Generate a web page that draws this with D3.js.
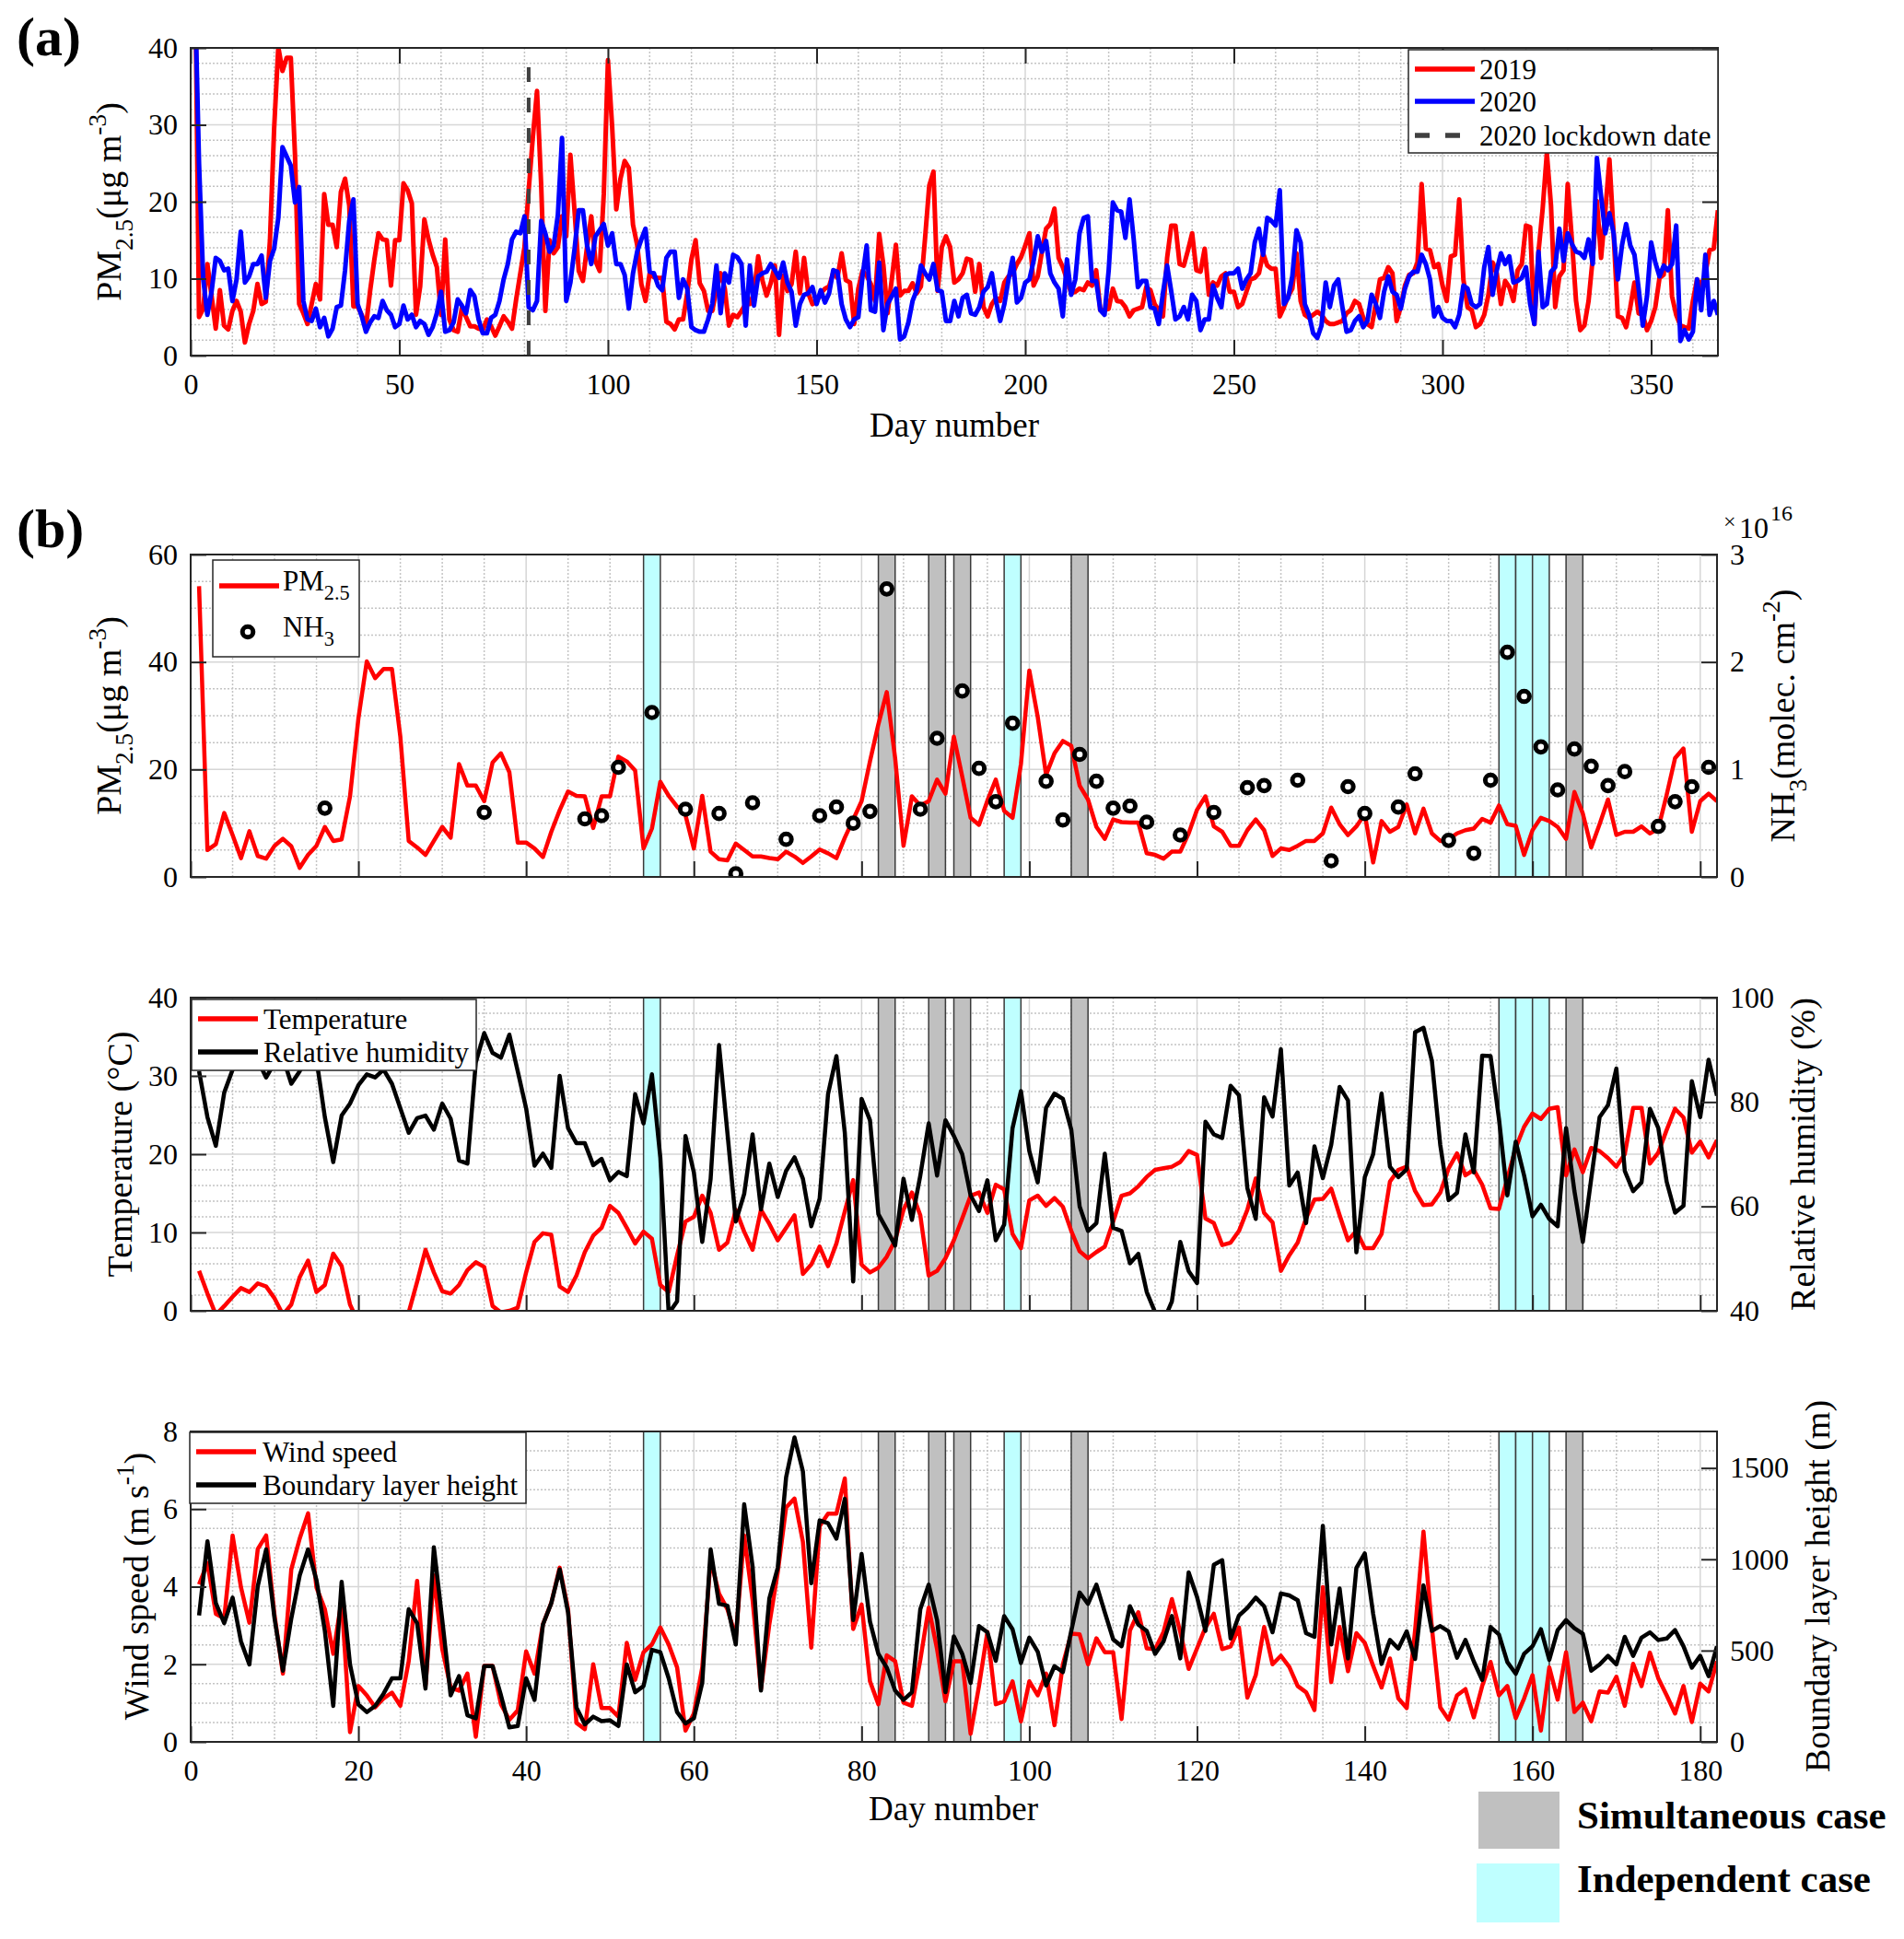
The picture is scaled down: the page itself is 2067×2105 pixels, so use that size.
<!DOCTYPE html>
<html>
<head>
<meta charset="utf-8">
<script src="https://cdn.jsdelivr.net/npm/d3@7"></script>
<style>
  body { margin: 0; background: #fff; }
  text { font-family: 'Liberation Serif', 'Times New Roman', serif; }
</style>
</head>
<body>
<svg id="chart" width="2067" height="2105"></svg>
<script>
// daily PM2.5, day 1..366
const pm2019 = [
  54.1, 5.0, 6.1, 11.9, 7.8, 3.5, 8.5, 3.9, 3.4, 5.8,
  7.1, 5.7, 1.7, 4.1, 5.8, 9.3, 6.7, 7.0, 15.0, 29.5,
  40.1, 37.0, 38.7, 38.7, 26.1, 6.7, 5.5, 4.1, 6.7, 9.3,
  7.3, 21.0, 17.0, 17.0, 14.1, 21.3, 23.0, 19.5, 6.4, 6.4,
  5.3, 3.7, 8.4, 12.4, 15.9, 15.1, 15.0, 9.1, 15.0, 15.0,
  22.4, 21.5, 19.8, 5.3, 9.0, 17.7, 15.1, 13.1, 11.5, 5.3,
  15.1, 4.7, 3.3, 3.1, 6.2, 5.0, 3.8, 3.8, 3.5, 3.3,
  4.7, 3.8, 2.6, 3.8, 5.1, 4.4, 3.5, 7.3, 10.7, 14.1,
  21.5, 28.4, 34.4, 22.1, 5.8, 15.0, 13.3, 14.1, 18.1, 15.5,
  26.1, 18.7, 11.0, 9.7, 14.2, 18.1, 12.3, 11.0, 21.0, 38.4,
  29.8, 19.0, 23.0, 25.3, 24.4, 17.0, 14.4, 9.3, 7.1, 10.7,
  10.2, 10.1, 10.1, 4.4, 4.1, 3.4, 4.7, 4.7, 8.1, 12.5,
  15.0, 9.4, 8.4, 5.8, 5.8, 8.7, 10.7, 8.7, 3.9, 5.3,
  5.0, 5.8, 6.7, 6.7, 8.1, 12.9, 9.8, 7.8, 9.4, 11.7,
  2.7, 10.4, 8.4, 9.3, 13.5, 8.1, 12.7, 8.1, 6.7, 7.0,
  8.1, 8.7, 9.0, 10.8, 10.1, 13.3, 9.8, 9.5, 4.1, 8.7,
  11.0, 10.4, 9.3, 7.1, 15.8, 11.8, 5.5, 9.8, 14.4, 7.8,
  8.4, 8.4, 9.4, 8.1, 9.0, 15.3, 22.1, 23.9, 8.4, 14.1,
  15.5, 14.1, 9.5, 9.9, 10.7, 12.6, 12.4, 8.3, 11.9, 6.3,
  5.1, 6.7, 7.5, 7.1, 9.5, 10.3, 10.7, 11.9, 12.8, 14.3,
  15.9, 9.1, 10.3, 13.5, 16.5, 17.1, 19.1, 12.7, 11.5, 9.9,
  8.1, 8.3, 8.7, 8.5, 9.5, 9.1, 11.1, 5.9, 5.9, 6.1,
  8.7, 7.1, 7.0, 6.3, 5.1, 5.9, 6.1, 6.3, 8.9, 8.5,
  6.7, 5.9, 5.1, 12.7, 16.9, 16.9, 11.9, 11.7, 13.7, 15.9,
  11.1, 10.9, 13.9, 7.9, 9.5, 9.1, 10.3, 10.7, 8.3, 8.3,
  6.3, 6.7, 8.3, 9.9, 10.1, 10.7, 13.3, 11.7, 11.3, 11.3,
  5.1, 6.3, 7.7, 8.7, 13.3, 7.1, 5.3, 4.9, 5.3, 5.7,
  5.3, 4.5, 4.1, 4.1, 4.3, 4.5, 5.5, 5.9, 7.1, 6.7,
  4.9, 4.1, 3.7, 6.7, 9.9, 10.1, 11.5, 10.7, 4.5, 6.3,
  9.1, 10.5, 10.7, 12.1, 22.3, 13.9, 13.7, 11.5, 11.9, 9.1,
  7.1, 12.9, 13.1, 20.3, 9.9, 6.3, 5.9, 3.7, 4.1, 5.3,
  7.9, 12.1, 10.7, 6.7, 9.7, 8.9, 7.1, 11.1, 11.9, 16.9,
  16.7, 4.1, 13.5, 19.1, 26.3, 19.5, 6.3, 10.3, 11.1, 22.3,
  15.1, 7.1, 3.3, 3.9, 7.1, 12.7, 20.1, 12.7, 18.7, 25.5,
  15.9, 5.1, 4.9, 3.7, 6.3, 9.5, 5.5, 5.3, 3.3, 4.5,
  6.3, 10.1, 10.5, 18.9, 7.7, 5.3, 3.9, 3.7, 3.5, 7.1,
  9.9, 9.1, 10.7, 13.7, 13.9, 18.9
];
const pm2020 = [
  48, 25, 10, 5.3, 8.3, 12.7, 12.3, 11.1, 11.3, 7.1,
  9.9, 16.1, 9.5, 10.3, 11.9, 11.9, 13.0, 7.5, 12.3, 13.9,
  17.9, 27.1, 25.9, 24.7, 19.9, 21.9, 7.1, 4.7, 4.5, 6.1,
  3.7, 4.9, 2.5, 3.5, 6.3, 6.5, 11.1, 17.5, 20.3, 6.7,
  5.1, 3.1, 4.3, 5.1, 4.9, 7.1, 5.9, 5.3, 3.7, 4.1,
  6.5, 4.7, 5.3, 3.7, 4.5, 4.1, 2.7, 3.7, 5.5, 8.3,
  3.1, 3.3, 4.3, 7.3, 6.5, 5.5, 8.5, 7.7, 4.7, 2.9,
  2.9, 4.9, 5.3, 7.1, 9.9, 11.9, 15.1, 16.1, 15.9, 18.1,
  6.3, 5.9, 7.1, 17.5, 15.9, 13.5, 14.3, 18.3, 28.3, 7.1,
  9.5, 13.9, 18.9, 18.9, 14.3, 11.9, 15.5, 16.3, 17.1, 14.3,
  15.9, 11.9, 11.9, 10.5, 6.1, 10.7, 13.5, 15.1, 16.5, 10.9,
  10.7, 9.1, 8.5, 12.7, 13.5, 13.5, 7.5, 9.9, 8.7, 3.7,
  3.3, 3.1, 3.1, 4.7, 6.7, 11.7, 5.5, 10.7, 9.5, 13.1,
  12.8, 11.9, 3.9, 11.7, 6.5, 10.3, 10.7, 10.9, 11.9, 11.1,
  10.1, 12.1, 9.5, 8.3, 3.9, 6.7, 7.9, 8.1, 8.9, 6.7,
  8.5, 6.9, 8.1, 11.1, 10.9, 6.7, 4.7, 3.7, 4.7, 5.0,
  10.3, 14.3, 5.9, 5.7, 12.1, 3.3, 6.7, 7.7, 8.7, 2.1,
  2.5, 4.3, 7.1, 8.5, 11.7, 10.7, 9.9, 11.9, 8.5, 8.3,
  4.5, 4.5, 7.1, 5.1, 7.5, 7.9, 5.5, 5.3, 6.3, 8.3,
  8.9, 10.7, 7.1, 4.5, 6.7, 9.9, 12.7, 6.9, 7.5, 9.5,
  9.9, 12.3, 15.5, 13.5, 14.9, 10.7, 9.5, 8.7, 5.1, 12.5,
  7.9, 9.9, 15.9, 17.9, 18.1, 9.7, 9.7, 5.9, 5.3, 11.1,
  19.9, 18.9, 18.7, 15.3, 20.3, 15.1, 8.9, 9.7, 9.7, 6.3,
  6.1, 4.1, 8.1, 11.7, 8.3, 4.7, 5.1, 6.3, 4.7, 7.9,
  7.1, 3.3, 4.7, 4.7, 9.1, 7.5, 6.3, 10.5, 10.7, 10.7,
  11.3, 8.7, 9.9, 10.7, 14.7, 16.5, 13.1, 17.9, 17.5, 16.9,
  21.5, 6.7, 7.5, 10.3, 16.3, 14.7, 6.7, 5.3, 2.9, 2.3,
  3.9, 9.5, 6.3, 9.1, 9.9, 6.3, 3.1, 3.3, 4.5, 5.1,
  3.7, 4.5, 7.9, 6.7, 4.9, 8.3, 10.3, 8.3, 7.9, 6.1,
  8.7, 10.3, 10.9, 10.9, 13.1, 11.9, 9.9, 5.1, 6.3, 4.9,
  4.5, 4.5, 3.7, 5.3, 9.1, 8.7, 6.7, 6.3, 6.7, 11.5,
  14.1, 7.9, 11.1, 13.3, 11.9, 12.9, 9.5, 9.7, 10.1, 11.5,
  6.7, 4.1, 13.5, 6.3, 6.7, 10.9, 11.5, 16.5, 12.3, 15.9,
  14.5, 13.5, 13.3, 12.7, 15.1, 11.9, 25.7, 20.7, 15.9, 18.5,
  15.9, 9.9, 14.3, 17.1, 14.3, 13.1, 8.7, 3.9, 7.7, 14.7,
  12.1, 10.3, 11.7, 11.1, 11.9, 16.9, 1.9, 3.3, 2.1, 3.1,
  9.9, 5.9, 13.1, 5.3, 7.1, 5.3
];
const lockdownDay = 81;
const lockdownSpan = [0, 38];

// NH3 column (x 1e16 molec. cm-2) on the days it was observed
const nh3Days = [16, 35, 47, 49, 51, 55, 59, 63, 65, 67, 71, 75, 77, 79, 81, 83, 87, 89, 92, 94,
  96, 98, 102, 104, 106, 108, 110, 112, 114, 118, 122, 126, 128, 132, 136, 138, 140, 144, 146, 150,
  153, 155, 157, 159, 161, 163, 165, 167, 169, 171, 175, 177, 179, 181];
const nh3 = [0.64, 0.60, 0.54, 0.57, 1.02, 1.53, 0.63, 0.59, 0.03, 0.69, 0.35, 0.57, 0.65, 0.50, 0.61, 2.68, 0.63, 1.29, 1.73, 1.01,
  0.70, 1.43, 0.89, 0.53, 1.14, 0.89, 0.64, 0.66, 0.51, 0.39, 0.60, 0.83, 0.85, 0.90, 0.15, 0.84, 0.59, 0.65, 0.96, 0.34,
  0.22, 0.90, 2.09, 1.68, 1.21, 0.81, 1.19, 1.03, 0.85, 0.98, 0.47, 0.70, 0.84, 1.02];

// meteorology, day 1..182 of 2019
const temperature = [
  5.1, 2.2, -0.5, 0.6, 1.8, 2.9, 2.4, 3.5, 3.1, 1.6,
  -0.5, 0.8, 4.3, 6.4, 2.4, 3.3, 7.3, 5.7, 0.8, -1.5,
  -3.0, -3.0, -2.5, -2.0, -1.5, -0.2, 3.7, 7.8, 4.9, 2.5,
  2.2, 3.3, 5.2, 6.2, 5.6, 0.6, -0.2, 0.0, 0.4, 4.9,
  8.8, 9.9, 9.7, 3.1, 2.4, 4.5, 7.5, 9.6, 10.6, 13.4,
  12.5, 10.6, 8.6, 10.1, 9.2, 3.3, 2.4, 7.1, 11.4, 12.0,
  14.7, 12.5, 7.8, 8.7, 12.9, 10.1, 7.8, 12.9, 11.1, 9.0,
  10.6, 12.2, 4.7, 5.9, 8.2, 5.7, 8.6, 12.7, 16.7, 5.9,
  4.9, 5.5, 6.9, 9.0, 12.9, 15.1, 12.2, 4.5, 5.1, 6.7,
  9.0, 11.8, 14.7, 15.1, 12.5, 16.1, 15.5, 9.8, 8.0, 14.1,
  14.7, 13.4, 14.4, 13.3, 10.2, 7.6, 6.7, 7.5, 8.2, 11.4,
  14.7, 15.0, 15.9, 17.1, 18.0, 18.2, 18.4, 19.0, 20.4, 19.9,
  11.8, 11.2, 8.4, 8.7, 10.2, 12.9, 16.9, 12.5, 11.3, 5.1,
  7.1, 8.7, 11.8, 14.2, 14.3, 15.6, 12.2, 9.0, 10.2, 8.0,
  8.0, 9.8, 16.5, 18.0, 18.4, 15.3, 13.5, 13.6, 15.1, 18.2,
  20.1, 17.3, 18.0, 16.1, 13.1, 13.0, 16.9, 20.8, 23.5, 25.2,
  24.5, 25.8, 26.0, 17.3, 20.6, 17.7, 20.8, 20.4, 19.5, 18.4,
  20.0, 25.9, 25.9, 18.8, 20.2, 23.1, 25.8, 24.7, 20.2, 21.6,
  19.6, 21.8
];
const humidity = [
  85.9, 77.1, 71.6, 81.8, 86.2, 88.5, 89.5, 88.0, 84.7, 87.5,
  88.5, 83.5, 85.9, 88.5, 88.2, 77.1, 68.5, 77.4, 79.7, 83.2,
  85.3, 84.7, 86.2, 83.5, 78.8, 74.1, 76.9, 77.4, 74.7, 79.7,
  76.8, 68.8, 68.2, 87.6, 93.2, 89.4, 88.5, 92.9, 85.9, 78.8,
  67.8, 70.1, 67.4, 85.0, 75.0, 72.1, 72.1, 67.9, 69.1, 65.0,
  66.6, 65.8, 81.5, 75.9, 85.3, 69.4, 39.5, 41.8, 73.5, 66.5,
  53.2, 65.3, 90.9, 74.1, 57.1, 62.4, 73.8, 59.4, 68.2, 61.8,
  66.8, 69.4, 65.3, 56.2, 61.5, 81.5, 88.8, 74.1, 45.6, 80.6,
  76.5, 58.5, 55.6, 52.5, 65.3, 57.4, 65.9, 75.9, 65.9, 76.5,
  73.5, 70.0, 62.1, 59.1, 65.0, 53.5, 56.5, 75.0, 82.1, 70.6,
  64.6, 78.9, 81.6, 80.6, 74.7, 60.0, 55.3, 56.8, 70.1, 55.9,
  55.3, 49.1, 50.9, 43.6, 39.7, 38.0, 41.8, 53.2, 47.6, 45.3,
  76.2, 73.8, 73.1, 83.1, 81.3, 63.5, 57.6, 80.9, 77.2, 90.1,
  64.0, 66.5, 56.8, 71.5, 65.4, 71.8, 82.9, 80.3, 51.2, 65.6,
  70.0, 81.6, 67.6, 65.6, 67.1, 93.4, 94.2, 87.9, 71.8, 61.2,
  62.6, 73.8, 66.5, 88.9, 88.8, 76.8, 62.1, 72.4, 65.9, 58.1,
  60.3, 57.6, 56.2, 75.0, 62.9, 53.2, 65.3, 77.1, 79.4, 86.4,
  66.8, 62.9, 64.6, 78.7, 75.0, 64.7, 58.8, 60.1, 84.0, 77.1,
  88.1, 81.2
];
const windSpeed = [
  4.06, 4.61, 3.30, 3.18, 5.32, 3.98, 3.07, 4.97, 5.32, 3.26,
  1.76, 4.45, 5.24, 5.89, 3.98, 3.42, 2.27, 3.66, 0.25, 1.44,
  1.20, 0.89, 1.12, 1.27, 0.93, 2.08, 4.15, 1.44, 4.29, 2.39,
  1.40, 1.32, 1.76, 0.13, 1.96, 1.96, 0.97, 0.57, 0.81, 2.33,
  1.76, 3.03, 3.58, 4.49, 3.42, 0.49, 0.33, 2.00, 0.87, 0.87,
  0.65, 2.55, 1.60, 2.31, 2.51, 2.95, 2.51, 1.92, 0.29, 0.73,
  1.92, 4.69, 3.82, 3.42, 2.71, 5.32, 3.66, 1.36, 3.03, 4.37,
  6.04, 6.27, 5.16, 2.43, 5.56, 5.88, 5.88, 6.79, 2.91, 3.54,
  1.56, 0.97, 2.23, 2.08, 1.01, 0.93, 2.11, 3.46, 2.39, 1.05,
  2.08, 2.08, 0.21, 1.44, 2.83, 0.97, 1.05, 1.56, 0.53, 1.56,
  1.20, 1.76, 0.43, 2.00, 2.79, 2.77, 2.00, 2.67, 2.31, 2.31,
  0.59, 2.87, 3.34, 2.41, 2.39, 2.83, 3.68, 2.83, 1.88, 2.41,
  2.95, 3.30, 2.39, 2.46, 2.95, 1.14, 1.72, 2.96, 2.00, 2.22,
  1.93, 1.44, 1.28, 0.82, 3.99, 1.54, 2.96, 1.82, 2.80, 2.55,
  1.96, 1.40, 2.15, 1.12, 0.87, 2.87, 5.42, 2.95, 0.89, 0.57,
  1.20, 1.36, 0.63, 1.44, 2.06, 1.20, 1.44, 0.61, 1.12, 1.72,
  0.29, 1.92, 1.09, 2.31, 0.77, 1.01, 0.53, 1.30, 1.27, 1.68,
  0.93, 2.01, 1.44, 2.30, 1.64, 1.20, 0.73, 1.44, 0.51, 1.50,
  1.30, 2.08
];
const blh = [
  692, 1099, 760, 650, 790, 550, 424, 852, 1054, 676,
  390, 676, 911, 1054, 886, 608, 197, 877, 424, 205,
  163, 197, 264, 348, 348, 726, 650, 292, 1066, 667,
  255, 360, 146, 129, 415, 415, 255, 79, 87, 348,
  230, 642, 760, 945, 709, 188, 96, 138, 113, 118,
  87, 424, 272, 306, 504, 491, 348, 163, 101, 129,
  323, 1054, 756, 746, 533, 1301, 961, 281, 785, 953,
  1449, 1667, 1482, 869, 1213, 1197, 1113, 1331, 667, 1029,
  659, 482, 407, 281, 230, 272, 726, 861, 667, 272,
  578, 482, 323, 634, 600, 444, 689, 617, 432, 571,
  494, 309, 415, 382, 608, 818, 756, 861, 709, 561,
  524, 743, 642, 608, 482, 550, 689, 457, 928, 793,
  608, 970, 995, 566, 692, 734, 790, 743, 600, 813,
  802, 776, 595, 575, 1183, 533, 840, 457, 953, 1032,
  701, 427, 558, 511, 605, 454, 857, 608, 634, 605,
  461, 558, 440, 339, 629, 588, 437, 373, 482, 524,
  617, 449, 612, 667, 622, 592, 390, 424, 471, 424,
  575, 471, 571, 600, 558, 566, 612, 524, 407, 471,
  360, 524
];

// highlighted episodes [start day, end day]
const simultaneousCases = [[82, 84], [88, 90], [91, 93], [105, 107], [164, 166]];
const independentCases = [[54, 56], [97, 99], [156, 158], [158, 160], [160, 162]];

const GRAY = "#c0c0c0", CYAN = "#bfffff", AXIS = "#262626";
const svg = d3.select("#chart");
svg.append("rect").attr("width", 2067).attr("height", 2105).attr("fill", "#fff");
const defs = svg.append("defs");

const onStep = (v, step) => Math.abs(v / step - Math.round(v / step)) < 1e-6;

// text with sub/superscript pieces: [["PM"], ["2.5", "sub"], ...]
function rich(sel, parts, size) {
  let off = 0;
  parts.forEach(([s, kind]) => {
    const to = kind === "sub" ? size * 0.33 : kind === "sup" ? -size * 0.42 : 0;
    sel.append("tspan").attr("dy", to - off).attr("font-size", kind ? size * 0.72 : size).text(s);
    off = to;
  });
  return sel;
}

function makePanel(o) {
  const x = d3.scaleLinear().domain(o.xDomain).range([o.left, o.right]);
  const y = d3.scaleLinear().domain(o.yDomain).range([o.bottom, o.top]);
  const y2 = o.y2Domain ? d3.scaleLinear().domain(o.y2Domain).range([o.bottom, o.top]) : null;
  const g = svg.append("g");

  const xs = d3.range(o.xDomain[0] + o.xMinor, o.xDomain[1], o.xMinor);
  const ys = d3.range(o.yDomain[0] + o.yMinor, o.yDomain[1] - 1e-9, o.yMinor);
  const grid = g.append("g");
  grid.selectAll("line.gx").data(xs).join("line")
    .attr("x1", x).attr("x2", x).attr("y1", o.top).attr("y2", o.bottom)
    .attr("stroke", d => onStep(d, o.xMajor) ? "#d6d6d6" : "#c4c4c4")
    .attr("stroke-dasharray", d => onStep(d, o.xMajor) ? null : "2,2")
    .attr("stroke-width", 1.5);
  grid.selectAll("line.gy").data(ys).join("line")
    .attr("y1", y).attr("y2", y).attr("x1", o.left).attr("x2", o.right)
    .attr("stroke", d => onStep(d, o.yMajor) ? "#d6d6d6" : "#c4c4c4")
    .attr("stroke-dasharray", d => onStep(d, o.yMajor) ? null : "2,2")
    .attr("stroke-width", 1.5);

  if (o.bands) {
    const bands = [
      ...simultaneousCases.map(r => ({ r, fill: GRAY })),
      ...independentCases.map(r => ({ r, fill: CYAN }))
    ];
    g.append("g").selectAll("rect").data(bands).join("rect")
      .attr("x", d => x(d.r[0])).attr("width", d => x(d.r[1]) - x(d.r[0]))
      .attr("y", o.top).attr("height", o.bottom - o.top)
      .attr("fill", d => d.fill).attr("stroke", "#3a3a3a").attr("stroke-width", 1.5);
  }

  defs.append("clipPath").attr("id", o.id).append("rect")
    .attr("x", o.left).attr("y", o.top).attr("width", o.right - o.left).attr("height", o.bottom - o.top);
  const data = g.append("g").attr("clip-path", `url(#${o.id})`);
  return { o, g, x, y, y2, data };
}

function styleAxis(sel) {
  sel.attr("font-family", "'Liberation Serif', 'Times New Roman', serif").attr("font-size", 32);
  sel.select(".domain").remove();
  sel.selectAll(".tick line").attr("stroke", AXIS).attr("stroke-width", 2);
  sel.selectAll(".tick text").attr("fill", "#000");
}

function finishPanel(p) {
  const o = p.o, g = p.g.append("g");
  const blank = () => "";
  const num = d3.format("d");
  g.append("g").attr("transform", `translate(0,${o.bottom})`)
    .call(d3.axisBottom(p.x).tickValues(o.xTicks).tickSizeInner(-17).tickSizeOuter(0)
      .tickPadding(19).tickFormat(o.xLabels ? num : blank))
    .call(styleAxis);
  g.append("g").attr("transform", `translate(${o.left},0)`)
    .call(d3.axisLeft(p.y).tickValues(o.yTicks).tickSizeInner(-17).tickSizeOuter(0)
      .tickPadding(14).tickFormat(num))
    .call(styleAxis);
  if (p.y2) {
    g.append("g").attr("transform", `translate(${o.right},0)`)
      .call(d3.axisRight(p.y2).tickValues(o.y2Ticks).tickSizeInner(-17).tickSizeOuter(0)
        .tickPadding(14).tickFormat(num))
      .call(styleAxis);
  } else {
    g.append("g").attr("transform", `translate(${o.right},0)`)
      .call(d3.axisRight(p.y).tickValues(o.yTicks).tickSizeInner(-17).tickSizeOuter(0).tickFormat(blank))
      .call(styleAxis);
    g.append("g").attr("transform", `translate(0,${o.top})`)
      .call(d3.axisTop(p.x).tickValues(o.xTicks).tickSizeInner(-17).tickSizeOuter(0).tickFormat(blank))
      .call(styleAxis);
  }
  g.append("rect").attr("x", o.left).attr("y", o.top)
    .attr("width", o.right - o.left).attr("height", o.bottom - o.top)
    .attr("fill", "none").attr("stroke", AXIS).attr("stroke-width", 2);
}

function yTitle(x, y, parts, size = 38) {
  rich(svg.append("text").attr("transform", `translate(${x},${y}) rotate(-90)`)
    .attr("text-anchor", "middle").attr("font-size", size), parts, size);
}

function dayLine(p, scale, values, color, width) {
  p.data.append("path").datum(values)
    .attr("d", d3.line().x((d, i) => p.x(i + 1)).y(d => scale(d)))
    .attr("fill", "none").attr("stroke", color).attr("stroke-width", width)
    .attr("stroke-linejoin", "round");
}

function legendBox(x, y, w, h) {
  svg.append("rect").attr("x", x).attr("y", y).attr("width", w).attr("height", h)
    .attr("fill", "#fff").attr("stroke", AXIS).attr("stroke-width", 1.5);
}

function legendLine(x, y, color, dash) {
  svg.append("line").attr("x1", x).attr("x2", x + 65).attr("y1", y).attr("y2", y)
    .attr("stroke", color).attr("stroke-width", 5.5).attr("stroke-dasharray", dash || null);
}

function nh3Marker(sel) {
  return sel.attr("r", 5.8).attr("fill", "#fff").attr("stroke", "#000").attr("stroke-width", 5);
}

const pmTitle = [["PM"], ["2.5", "sub"], ["(μg m"], ["-3", "sup"], [")"]];

// ---------- (a) ----------
const pa = makePanel({
  id: "clipA", left: 207, right: 1865, top: 52, bottom: 386,
  xDomain: [0, 366], yDomain: [0, 40], xMinor: 10, xMajor: 50, yMinor: 2, yMajor: 10,
  xTicks: d3.range(0, 351, 50), yTicks: d3.range(0, 41, 10), xLabels: true
});
dayLine(pa, pa.y, pm2019, "#ff0000", 5);
dayLine(pa, pa.y, pm2020, "#0000ff", 5);
pa.data.append("line")
  .attr("x1", pa.x(lockdownDay)).attr("x2", pa.x(lockdownDay))
  .attr("y1", pa.y(lockdownSpan[0])).attr("y2", pa.y(lockdownSpan[1]))
  .attr("stroke", "#404040").attr("stroke-width", 4).attr("stroke-dasharray", "16,17");
finishPanel(pa);

legendBox(1529, 54, 336, 112);
legendLine(1536, 75, "#ff0000");
legendLine(1536, 110, "#0000ff");
legendLine(1536, 147, "#404040", "16,17");
[["2019", 86], ["2020", 121], ["2020 lockdown date", 158]].forEach(([t, yy]) =>
  svg.append("text").attr("x", 1606).attr("y", yy).attr("font-size", 31).text(t));

yTitle(131, 219, pmTitle);
svg.append("text").attr("x", 1036).attr("y", 474).attr("text-anchor", "middle").attr("font-size", 37).text("Day number");
svg.append("text").attr("x", 18).attr("y", 60).attr("font-size", 60).attr("font-weight", "bold").text("(a)");
svg.append("text").attr("x", 18).attr("y", 594).attr("font-size", 60).attr("font-weight", "bold").text("(b)");

// ---------- (b) PM2.5 and NH3 ----------
const bx = { left: 207, right: 1864, xDomain: [0, 182], xMinor: 5, xMajor: 20, xTicks: d3.range(0, 181, 20), bands: true };
const pb1 = makePanel({
  ...bx, id: "clipB1", top: 602, bottom: 952,
  yDomain: [0, 60], yMinor: 5, yMajor: 20, yTicks: [0, 20, 40, 60],
  y2Domain: [0, 3], y2Ticks: [0, 1, 2, 3], xLabels: false
});
dayLine(pb1, pb1.y, pm2019.slice(0, 182), "#ff0000", 4.5);
pb1.data.append("g").selectAll("circle").data(nh3Days).join("circle")
  .attr("cx", d => pb1.x(d)).attr("cy", (d, i) => pb1.y2(nh3[i])).call(nh3Marker);
finishPanel(pb1);

legendBox(231, 608, 159, 105);
legendLine(238, 636, "#ff0000");
rich(svg.append("text").attr("x", 307).attr("y", 641).attr("font-size", 31), [["PM"], ["2.5", "sub"]], 31);
svg.append("circle").attr("cx", 269).attr("cy", 686).call(nh3Marker);
rich(svg.append("text").attr("x", 307).attr("y", 691).attr("font-size", 31), [["NH"], ["3", "sub"]], 31);

yTitle(131, 777, pmTitle);
yTitle(1948, 777, [["NH"], ["3", "sub"], ["(molec. cm"], ["-2", "sup"], [")"]]);
svg.append("text").attr("x", 1871).attr("y", 574).attr("font-size", 24).text("×");
svg.append("text").attr("x", 1888).attr("y", 584).attr("font-size", 32).text("10");
svg.append("text").attr("x", 1922).attr("y", 565).attr("font-size", 24).text("16");

// ---------- (b) temperature and RH ----------
const pb2 = makePanel({
  ...bx, id: "clipB2", top: 1083, bottom: 1423,
  yDomain: [0, 40], yMinor: 2, yMajor: 10, yTicks: [0, 10, 20, 30, 40],
  y2Domain: [40, 100], y2Ticks: [40, 60, 80, 100], xLabels: false
});
dayLine(pb2, pb2.y, temperature, "#ff0000", 4.5);
dayLine(pb2, pb2.y2, humidity, "#000000", 4.5);
finishPanel(pb2);

legendBox(208, 1085, 309, 77);
legendLine(215, 1106, "#ff0000");
legendLine(215, 1142, "#000000");
svg.append("text").attr("x", 286).attr("y", 1117).attr("font-size", 31).text("Temperature");
svg.append("text").attr("x", 286).attr("y", 1153).attr("font-size", 31).text("Relative humidity");

yTitle(143, 1253, [["Temperature (°C)"]]);
yTitle(1970, 1253, [["Relative humidity (%)"]]);

// ---------- (b) wind speed and boundary layer height ----------
const pb3 = makePanel({
  ...bx, id: "clipB3", top: 1554, bottom: 1891,
  yDomain: [0, 8], yMinor: 0.5, yMajor: 2, yTicks: [0, 2, 4, 6, 8],
  y2Domain: [0, 1700], y2Ticks: [0, 500, 1000, 1500], xLabels: true
});
dayLine(pb3, pb3.y, windSpeed, "#ff0000", 4.5);
dayLine(pb3, pb3.y2, blh, "#000000", 4.5);
finishPanel(pb3);

legendBox(206, 1555, 365, 77);
legendLine(213, 1576, "#ff0000");
legendLine(213, 1612, "#000000");
svg.append("text").attr("x", 285).attr("y", 1587).attr("font-size", 31).text("Wind speed");
svg.append("text").attr("x", 285).attr("y", 1623).attr("font-size", 31).text("Boundary layer height");

yTitle(161, 1722, [["Wind speed (m s"], ["-1", "sup"], [")"]]);
yTitle(1986, 1722, [["Boundary layer height (m)"]]);
svg.append("text").attr("x", 1035).attr("y", 1976).attr("text-anchor", "middle").attr("font-size", 37).text("Day number");

// case legend
svg.append("rect").attr("x", 1605).attr("y", 1945).attr("width", 88).attr("height", 62).attr("fill", GRAY);
svg.append("rect").attr("x", 1603).attr("y", 2023).attr("width", 90).attr("height", 64).attr("fill", CYAN);
svg.append("text").attr("x", 1712).attr("y", 1985).attr("font-size", 43).attr("font-weight", "bold").text("Simultaneous case");
svg.append("text").attr("x", 1712).attr("y", 2054).attr("font-size", 43).attr("font-weight", "bold").text("Independent case");
</script>
</body>
</html>
